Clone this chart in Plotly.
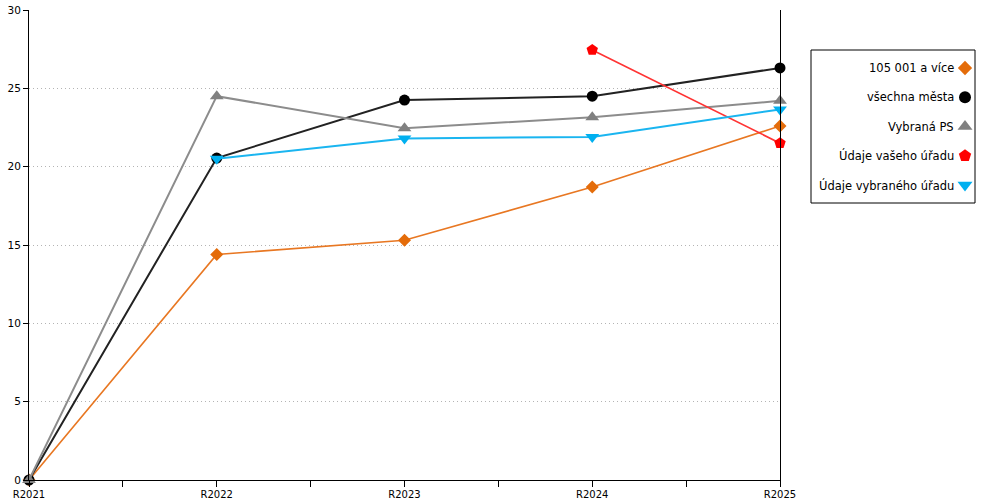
import plotly.graph_objects as go

categories = ["R2021", "R2022", "R2023", "R2024", "R2025"]
names = ["105 001 a více", "všechna města", "Vybraná PS", "Údaje vašeho úřadu", "Údaje vybraného úřadu"]
v_orange = [0, 14.4, 15.3, 18.7, 22.6]
v_black = [0, 20.55, 24.25, 24.5, 26.3]
v_gray = [0, 24.5, 22.45, 23.15, 24.2]
v_red = [None, None, None, 27.45, 21.5]
v_cyan = [None, 20.5, 21.8, 21.9, 23.65]
y_ticks = [0, 5, 10, 15, 20, 25, 30]

series = [v_orange, v_black, v_gray, v_red, v_cyan]
colors = ["#E46C0A", "#000000", "#808080", "#FF0000", "#00B0F0"]
line_colors = ["#E87722", "#222222", "#8C8C8C", "#FF3333", "#1AB5F0"]
widths = [1.6, 2, 2, 1.6, 2]
symbols = ["diamond", "circle", "triangle-up", "pentagon", "triangle-down"]
sizes = [10, 11, 12, 12, 12]

xi = list(range(len(categories)))
FONT = "DejaVu Sans"

fig = go.Figure()
for vals, name, c, lc, w, s, sz in zip(series, names, colors, line_colors, widths, symbols, sizes):
    fig.add_trace(go.Scatter(
        x=xi, y=vals, name=name, mode="lines+markers",
        line=dict(color=lc, width=w),
        marker=dict(symbol=s, size=sz, color=c),
        showlegend=False, xaxis="x", yaxis="y", connectgaps=False, cliponaxis=False,
    ))

# custom legend: symbols on the right of the labels
for i, (name, c, s, sz) in enumerate(zip(names, colors, symbols, sizes)):
    fig.add_trace(go.Scatter(
        x=[0.5], y=[i], mode="markers",
        marker=dict(symbol=s, size=sz + 1, color=c),
        showlegend=False, xaxis="x2", yaxis="y2", hoverinfo="skip", cliponaxis=False,
    ))

W_PLOT = 971.0
main_right = 751 / W_PLOT
box_x0 = (811 - 29) / W_PLOT
box_x1 = (975 - 29) / W_PLOT
text_x = (956 - 29) / W_PLOT
sym_c = (965 - 29) / W_PLOT
box_y1 = (480 - 50) / 470
box_y0 = (480 - 203) / 470

fig.update_layout(
    template="none",
    width=1000, height=500, autosize=False,
    margin=dict(l=29, r=0, t=10, b=20, pad=0),
    paper_bgcolor="white", plot_bgcolor="white",
    font=dict(family=FONT, size=10, color="#000"),
    xaxis=dict(
        domain=[0, main_right], range=[0, 4], automargin=False,
        tickvals=xi, ticktext=categories,
        showgrid=False, zeroline=False,
        showline=True, linecolor="#000", linewidth=1,
        ticks="outside", ticklen=5, tickcolor="#000",
        minor=dict(ticks="outside", dtick=0.5, tick0=0, ticklen=6, tickcolor="#000", showgrid=False),
        tickfont=dict(size=10),
        fixedrange=True,
    ),
    yaxis=dict(
        range=[0, 30], tickvals=y_ticks, automargin=False,
        showgrid=True, gridcolor="#B4B4B4", griddash="1px,3px", gridwidth=1,
        zeroline=False, showline=True, linecolor="#000", linewidth=1, mirror=True,
        ticks="outside", ticklen=5, tickcolor="#000",
        tickfont=dict(size=10.5),
    ),
    xaxis2=dict(domain=[sym_c - 0.02, sym_c + 0.02], range=[0, 1], visible=False,
                anchor="y2", automargin=False),
    yaxis2=dict(domain=[box_y0, box_y1], range=[4.615, -0.615], visible=False,
                anchor="x2", automargin=False),
    shapes=[dict(type="rect", xref="paper", yref="paper", x0=box_x0, x1=box_x1,
                 y0=box_y0, y1=box_y1, line=dict(color="#000", width=1), fillcolor="rgba(0,0,0,0)")],
)

for i, name in enumerate(names):
    fig.add_annotation(
        x=text_x, y=i, xref="paper", yref="y2", text=name, showarrow=False,
        xanchor="right", yanchor="middle", font=dict(family=FONT, size=11.5, color="#000"),
    )

post = "document.body.style.margin='0px';document.body.style.overflow='hidden';"
fig.write_html("out.html", config={"displayModeBar": False, "responsive": False}, post_script=post)
